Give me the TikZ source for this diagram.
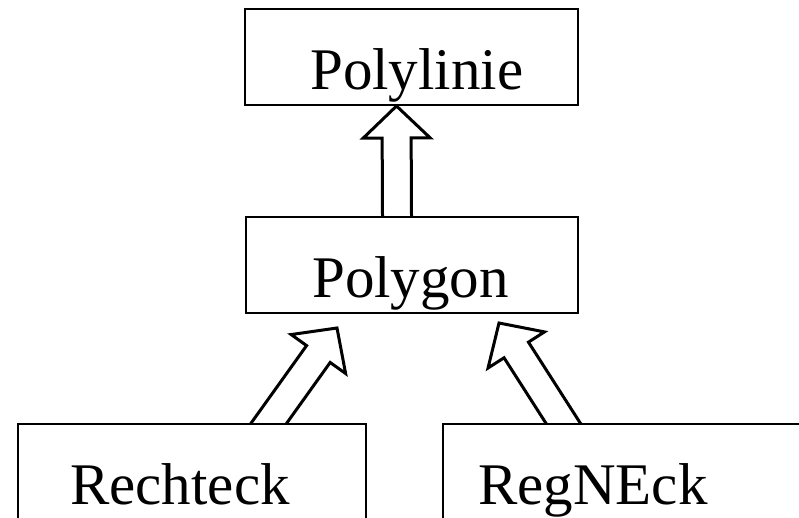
\documentclass[tikz,border=0pt]{standalone}
\usepackage{fontspec}
\setmainfont{Liberation Serif}
\usetikzlibrary{calc,backgrounds}

\tikzset{
  classbox/.style={draw, line width=2pt, fill=white, rectangle, inner sep=0pt},
  classname/.style={anchor=base west, inner sep=0pt, font=\fontsize{59}{59}\selectfont},
  inherit/.style={draw, line width=3pt, fill=white, line join=miter},
}

% Hollow block arrow from #1 (shaft base, on a box edge) to #2 (tip).
% The shaft reaches a little into the base box, whose white fill hides it.
\newcommand\hollowarrow[2]{%
  \path #1 coordinate (ha-a) #2 coordinate (ha-b);
  \path ($(ha-b)!32pt!(ha-a)$) coordinate (ha-c)
        ($(ha-a)!-12pt!(ha-b)$) coordinate (ha-d);
  \draw[inherit]
    ($(ha-d)!14.5pt!90:(ha-b)$) -- ($(ha-c)!14.5pt!90:(ha-b)$)
    -- ($(ha-c)!33.5pt!90:(ha-b)$) -- (ha-b)
    -- ($(ha-c)!33.5pt!-90:(ha-b)$) -- ($(ha-c)!14.5pt!-90:(ha-b)$)
    -- ($(ha-d)!14.5pt!-90:(ha-b)$);
}

\begin{document}
\begin{tikzpicture}[x=1pt, y=-1pt]
  \clip (0,0) rectangle (799,517);

  % class boxes
  \node[classbox, minimum width=333pt, minimum height=96pt] (polylinie) at (411.5,57) {};
  \node[classbox, minimum width=332pt, minimum height=96pt] (polygon) at (412,265) {};
  \node[classbox, minimum width=348pt, minimum height=106pt] (rechteck) at (192,477) {};
  \node[classbox, minimum width=367pt, minimum height=106pt] (regneck) at (626.5,477) {};

  % class names
  \node[classname] (t-polylinie) at (310,89) {Polylinie};
  \node[classname] (t-polygon) at (312,297) {Polygon};
  \node[classname] (t-rechteck) at (70,504) {Rechteck};
  \node[classname] (t-regneck) at (478,504) {RegNEck};

  % inheritance arrows, below the boxes
  \begin{pgfonlayer}{background}
    \fill[white] (0,0) rectangle (799,517);
    \hollowarrow{($(polygon.north)+(-15,0)$)}{($(polylinie.south)+(-15,0)$)}
    \hollowarrow{($(rechteck.north)+(77,0)$)}{($(polygon.south)+(-75,14)$)}
    \hollowarrow{($(regneck.north)+(-63.5,0)$)}{($(polygon.south)+(87,9)$)}
  \end{pgfonlayer}
\end{tikzpicture}
\end{document}
